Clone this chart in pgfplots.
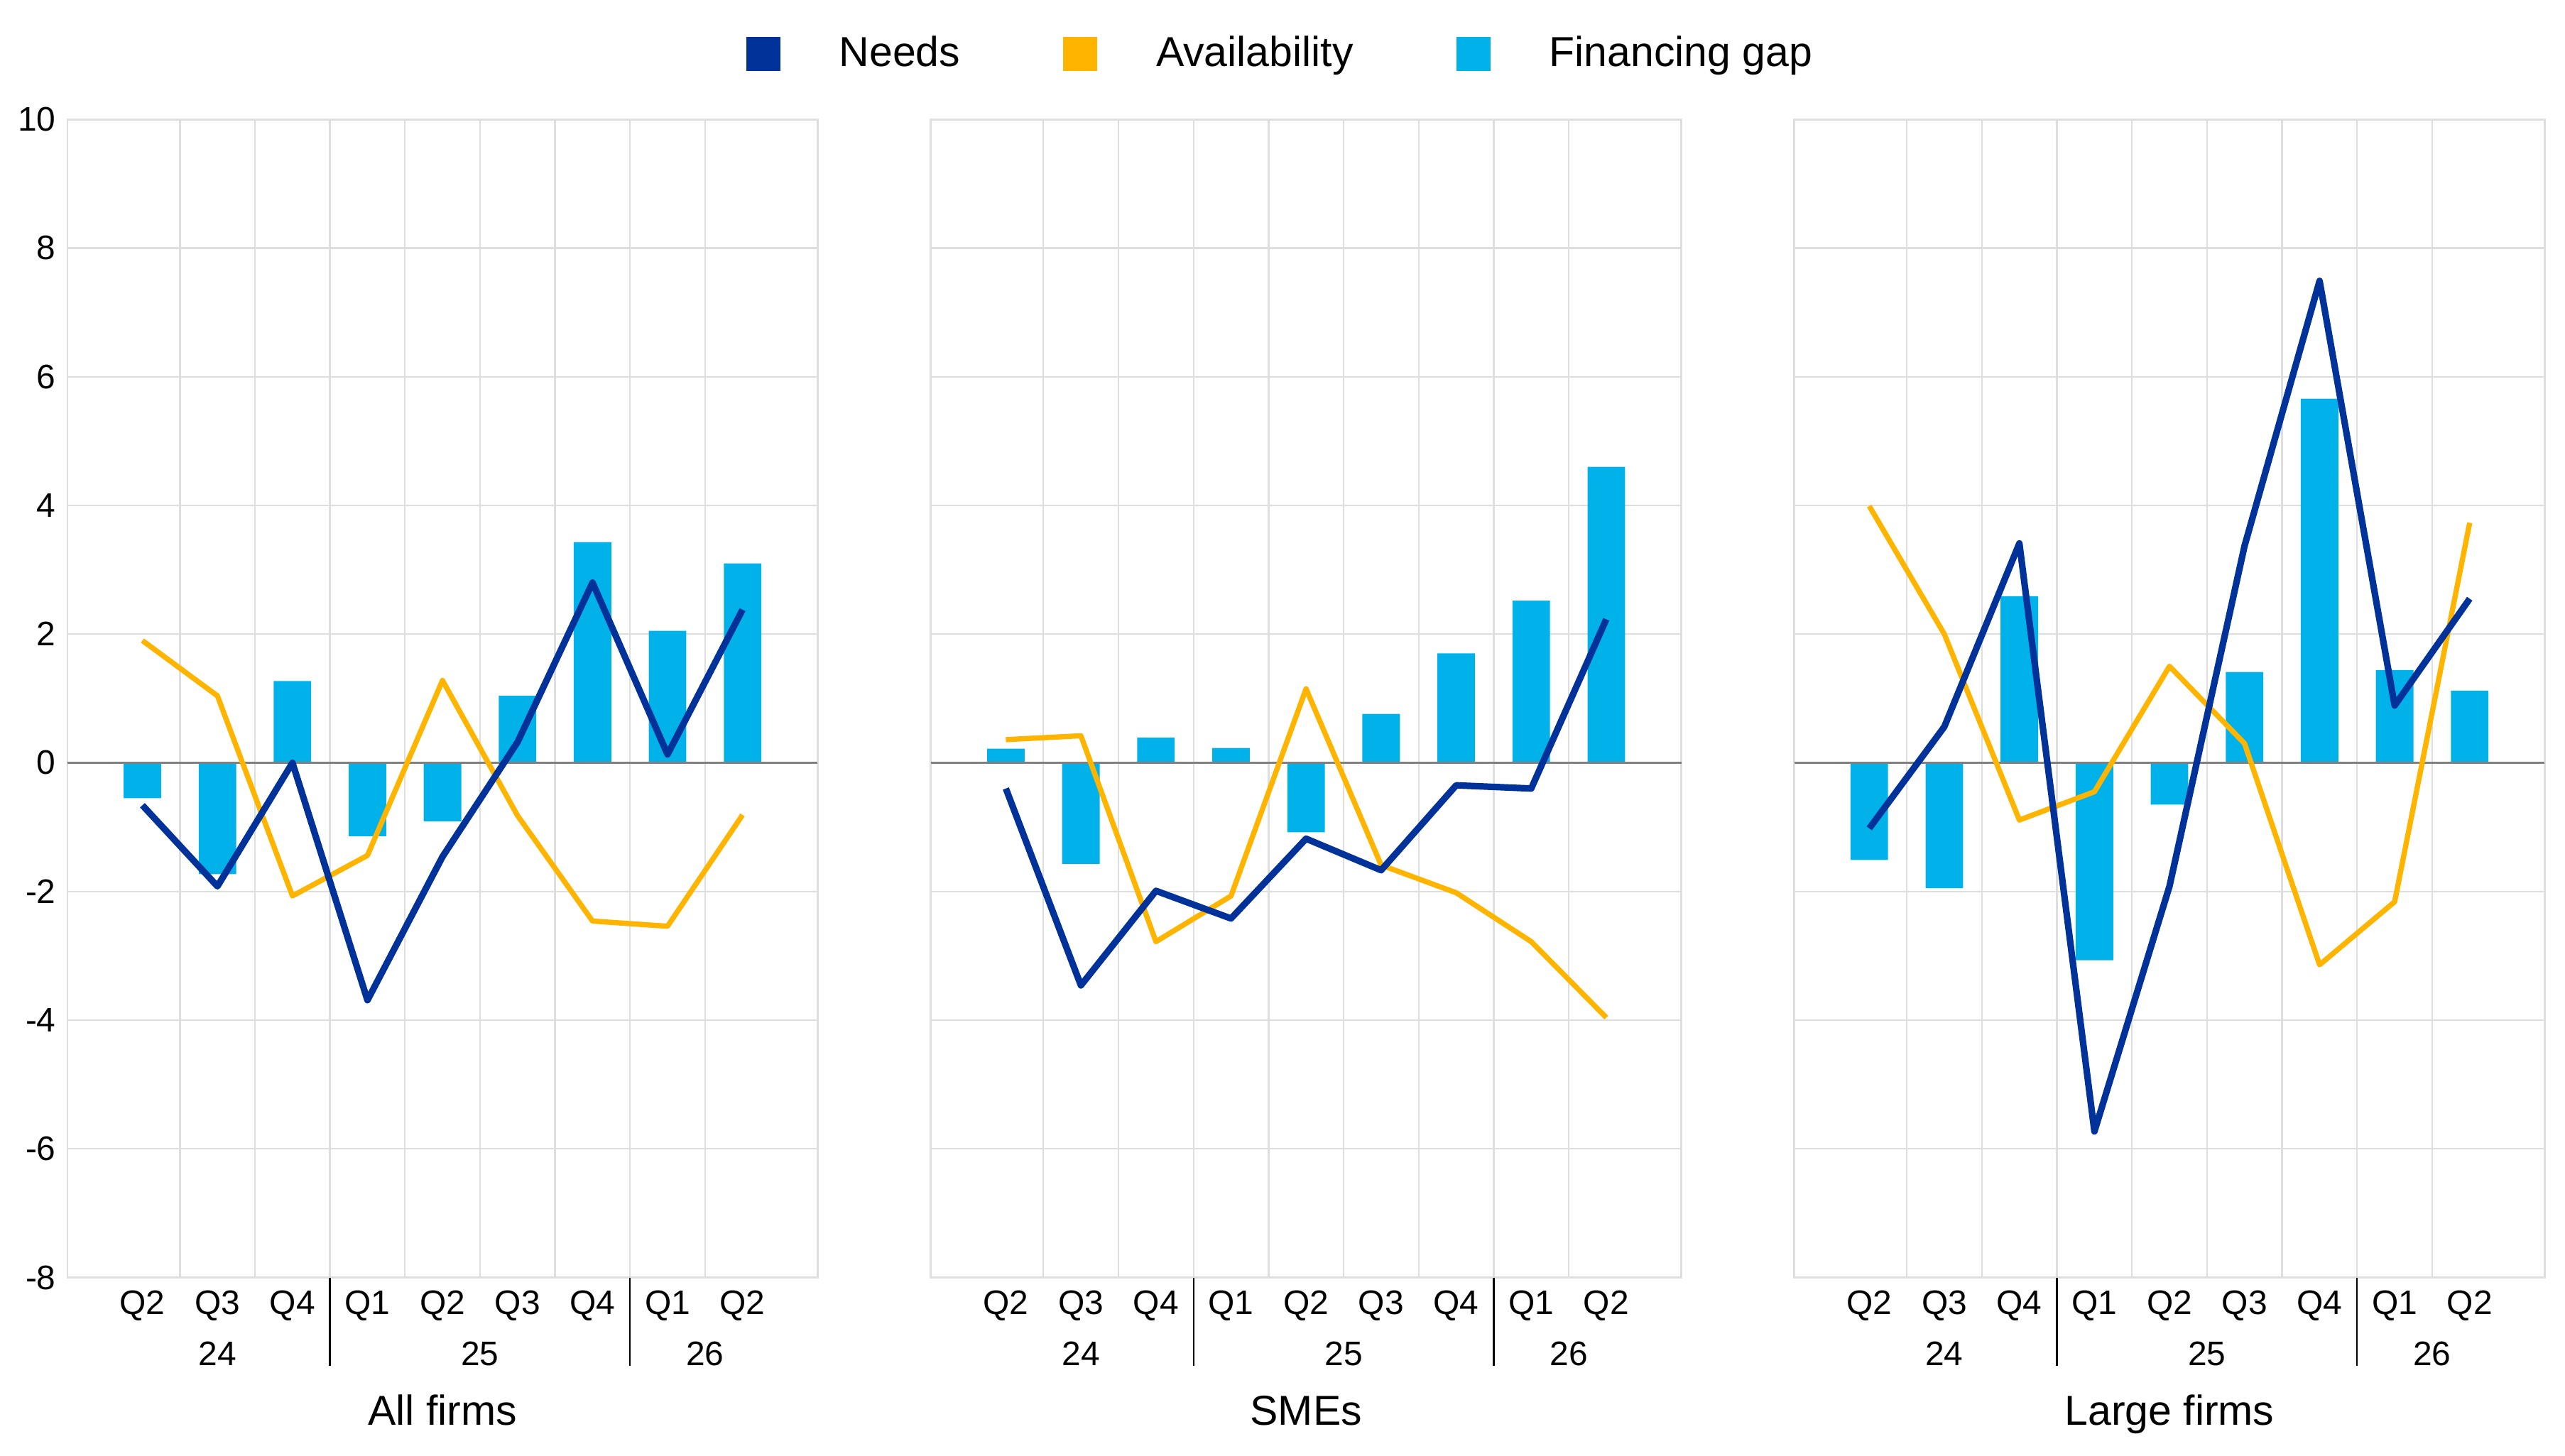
\documentclass[border=0pt]{standalone}
\usepackage{fontspec}
\setmainfont{Liberation Sans}
\usepackage{pgfplots}
\usepackage{pgfplotstable}
\pgfplotsset{compat=1.18}
\definecolor{needc}{HTML}{003299}
\definecolor{availc}{HTML}{FFB400}
\definecolor{gapc}{HTML}{00B1EA}
\definecolor{gridc}{HTML}{DEDEDE}
\newcommand\tfs{\fontsize{10.4}{12.5}\selectfont}
\newcommand\lfs{\fontsize{12.8}{15}\selectfont}

\pgfplotstableread{
x gap needs avail
0 -0.55 -0.66 1.90
1 -1.73 -1.92 1.04
2 1.27 0.00 -2.07
3 -1.14 -3.69 -1.44
4 -0.91 -1.46 1.28
5 1.04 0.32 -0.82
6 3.43 2.80 -2.46
7 2.05 0.13 -2.54
8 3.10 2.38 -0.81
}\tA
\pgfplotstableread{
x gap needs avail
0 0.22 -0.40 0.36
1 -1.57 -3.46 0.42
2 0.39 -1.99 -2.78
3 0.23 -2.42 -2.07
4 -1.08 -1.18 1.15
5 0.76 -1.67 -1.59
6 1.70 -0.35 -2.02
7 2.52 -0.40 -2.78
8 4.60 2.23 -3.96
}\tB
\pgfplotstableread{
x gap needs avail
0 -1.51 -1.02 3.99
1 -1.95 0.56 2.00
2 2.59 3.41 -0.89
3 -3.07 -5.73 -0.45
4 -0.65 -1.92 1.50
5 1.41 3.37 0.30
6 5.66 7.49 -3.14
7 1.44 0.89 -2.16
8 1.12 2.55 3.73
}\tC

\pgfplotsset{panel/.style={
  scale only axis, height=354.1pt, anchor=south west,
  xmin=-1, xmax=9, ymin=-8, ymax=10,
  ytick={-8,-6,...,10},
  xtick={0,...,8}, xticklabels={Q2,Q3,Q4,Q1,Q2,Q3,Q4,Q1,Q2},
  minor xtick={0.5,1.5,...,7.5},
  ymajorgrids, xminorgrids,
  grid style={gridc, line width=0.5pt},
  minor grid style={gridc, line width=0.5pt},
  axis line style={gridc, line width=0.6pt},
  major tick length=0pt, minor tick length=0pt,
  tick label style={font=\tfs, text=black},
  xticklabel style={anchor=base, yshift=-11.3pt},
  /pgf/number format/assume math mode=true,
  clip=false,
}}
\newcommand\panelplots[2]{%
  \addplot[forget plot, ybar, bar width=0.5, bar shift=0pt, fill=gapc, draw=none] table[x=x,y=gap]{#1};
  \addplot[forget plot, color=gray, line width=0.6pt] coordinates {(-1,0) (9,0)};
  \addplot[forget plot, color=availc, line width=1.6pt, line join=round] table[x=x,y=avail]{#1};
  \addplot[forget plot, color=needc, line width=2.0pt, line join=round] table[x=x,y=needs]{#1};
  \draw[black, line width=0.5pt] (axis cs:2.5,-8) -- ++(0pt,-27pt);
  \draw[black, line width=0.5pt] (axis cs:6.5,-8) -- ++(0pt,-27pt);
  \node[anchor=base, font=\tfs, yshift=-26.9pt] at (axis cs:1,-8) {24};
  \node[anchor=base, font=\tfs, yshift=-26.9pt] at (axis cs:4.5,-8) {25};
  \node[anchor=base, font=\tfs, yshift=-26.9pt] at (axis cs:7.5,-8) {26};
  \node[anchor=base, font=\lfs, yshift=-45.1pt] at (axis cs:4,-8) {#2};
}

\begin{document}
\begin{tikzpicture}
\useasboundingbox (0,0) rectangle (784pt,445pt);
\begin{axis}[panel, at={(20.6pt,54.4pt)}, width=229.3pt]
\panelplots{\tA}{All firms}
\end{axis}
\begin{axis}[panel, at={(284.5pt,54.4pt)}, width=229.4pt, yticklabels={},
  legend columns=3,
  legend style={draw=none, fill=none, inner sep=0pt, outer sep=0pt, font=\lfs,
    at={(axis description cs:-0.2459,1.0565)}, anchor=west,
    /tikz/every odd column/.append style={column sep=18pt},
    /tikz/every even column/.append style={column sep=31.5pt},
    nodes={inner sep=0pt}}]
\addlegendimage{legend image code/.code={\fill[needc] (0pt,-5pt) rectangle (10pt,5pt);}}
\addlegendentry{Needs}
\addlegendimage{legend image code/.code={\fill[availc] (0pt,-5pt) rectangle (10pt,5pt);}}
\addlegendentry{Availability}
\addlegendimage{legend image code/.code={\fill[gapc] (0pt,-5pt) rectangle (10pt,5pt);}}
\addlegendentry{Financing gap}
\panelplots{\tB}{SMEs}
\end{axis}
\begin{axis}[panel, at={(548.4pt,54.4pt)}, width=229.4pt, yticklabels={}]
\panelplots{\tC}{Large firms}
\end{axis}
\end{tikzpicture}
\end{document}
